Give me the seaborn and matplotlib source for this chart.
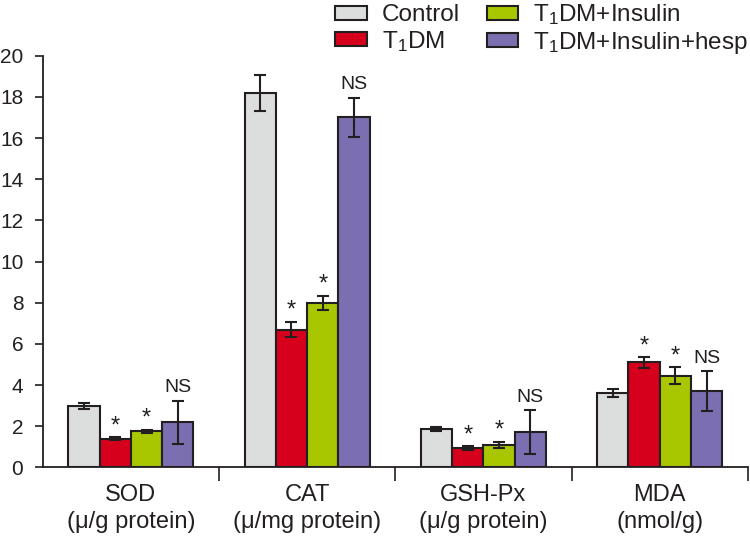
import numpy as np
import pandas as pd
import matplotlib
matplotlib.use("Agg")
import matplotlib.pyplot as plt
import seaborn as sns

# values
markers = ["SOD\n(\u03bc/g protein)", "CAT\n(\u03bc/mg protein)",
           "GSH-Px\n(\u03bc/g protein)", "MDA\n(nmol/g)"]
groups = ["Control", "T$_1$DM", "T$_1$DM+Insulin", "T$_1$DM+Insulin+hesp"]

control = [3.0, 18.2, 1.85, 3.6]
t1dm = [1.4, 6.7, 0.95, 5.1]
insulin = [1.75, 8.0, 1.1, 4.45]
hesp = [2.2, 17.0, 1.72, 3.7]

control_err = [0.15, 0.87, 0.1, 0.2]
t1dm_err = [0.06, 0.38, 0.08, 0.25]
insulin_err = [0.07, 0.33, 0.15, 0.42]
hesp_err = [1.05, 0.97, 1.05, 0.98]

# significance marks vs control, per group (None for control)
marks = [None, "*", "*", "NS"]

colors = ["#dcdddd", "#d6001c", "#a8c700", "#7b6fb1"]
ink = "#231f20"

values = [control, t1dm, insulin, hesp]
errors = [control_err, t1dm_err, insulin_err, hesp_err]

df = pd.DataFrame({
    "marker": np.tile(markers, len(groups)),
    "group": np.repeat(groups, len(markers)),
    "value": np.concatenate(values),
})

sns.set_style("ticks")
plt.rcParams["font.family"] = ["Liberation Sans", "DejaVu Sans"]
plt.rcParams["mathtext.fontset"] = "custom"
plt.rcParams["mathtext.rm"] = "Liberation Sans"
plt.rcParams["mathtext.it"] = "Liberation Sans"

fig = plt.figure(figsize=(7.5, 5.41), dpi=100)
ax = fig.add_axes([0.057, 0.136, 0.94, 0.761])

sns.barplot(data=df, x="marker", y="value", hue="group", hue_order=groups,
            order=markers, palette=colors, edgecolor=ink, linewidth=1.5,
            errorbar=None, width=0.71, gap=0, saturation=1, ax=ax, legend=False)

bar_sets = list(ax.containers)
handles = []
for i, cont in enumerate(bar_sets):
    xs = [p.get_x() + p.get_width() / 2 for p in cont.patches]
    ax.errorbar(xs, values[i], yerr=errors[i], fmt="none", ecolor=ink,
                elinewidth=1.5, capsize=4.5, capthick=1.5, zorder=3)
    if marks[i]:
        for x, v, e in zip(xs, values[i], errors[i]):
            if marks[i] == "*":
                ax.annotate("*", (x, v + e), xytext=(0, 0), textcoords="offset points",
                            ha="center", va="bottom", fontsize=17, color=ink)
            else:
                ax.annotate("NS", (x, v + e), xytext=(0, 3), textcoords="offset points",
                            ha="center", va="bottom", fontsize=14, color=ink)
    handles.append(cont.patches[0])

ax.set_ylim(0, 20)
ax.set_yticks(np.arange(0, 21, 2))
ax.set_xlim(-0.5, 3.5)
ax.set_xticks([0.5, 1.5, 2.5, 3.5])
ax.set_xticklabels([])
ax.set_xticks(range(len(markers)), minor=True)
ax.set_xticklabels(markers, minor=True, fontsize=17, linespacing=1.3, color=ink)
ax.tick_params(axis="x", which="minor", length=0, pad=12)
ax.tick_params(axis="x", which="major", length=10, width=1.2, color=ink)
ax.tick_params(axis="y", length=6, width=1.2, color=ink, labelsize=15, labelcolor=ink, pad=8)
ax.set_xlabel("")
ax.set_ylabel("")
for s in ["top", "right"]:
    ax.spines[s].set_visible(False)
for s in ["left", "bottom"]:
    ax.spines[s].set_color(ink)
    ax.spines[s].set_linewidth(1.3)

leg = fig.legend(handles, groups, ncol=2, loc="upper right", bbox_to_anchor=(1.0, 1.0),
                 frameon=False, fontsize=17.5, handlelength=1.3, handleheight=0.5,
                 handletextpad=0.6, columnspacing=1.1, labelspacing=0.1,
                 borderpad=0.1, borderaxespad=0.0)
for t in leg.get_texts():
    t.set_color(ink)

fig.savefig("out.png", dpi=100)
